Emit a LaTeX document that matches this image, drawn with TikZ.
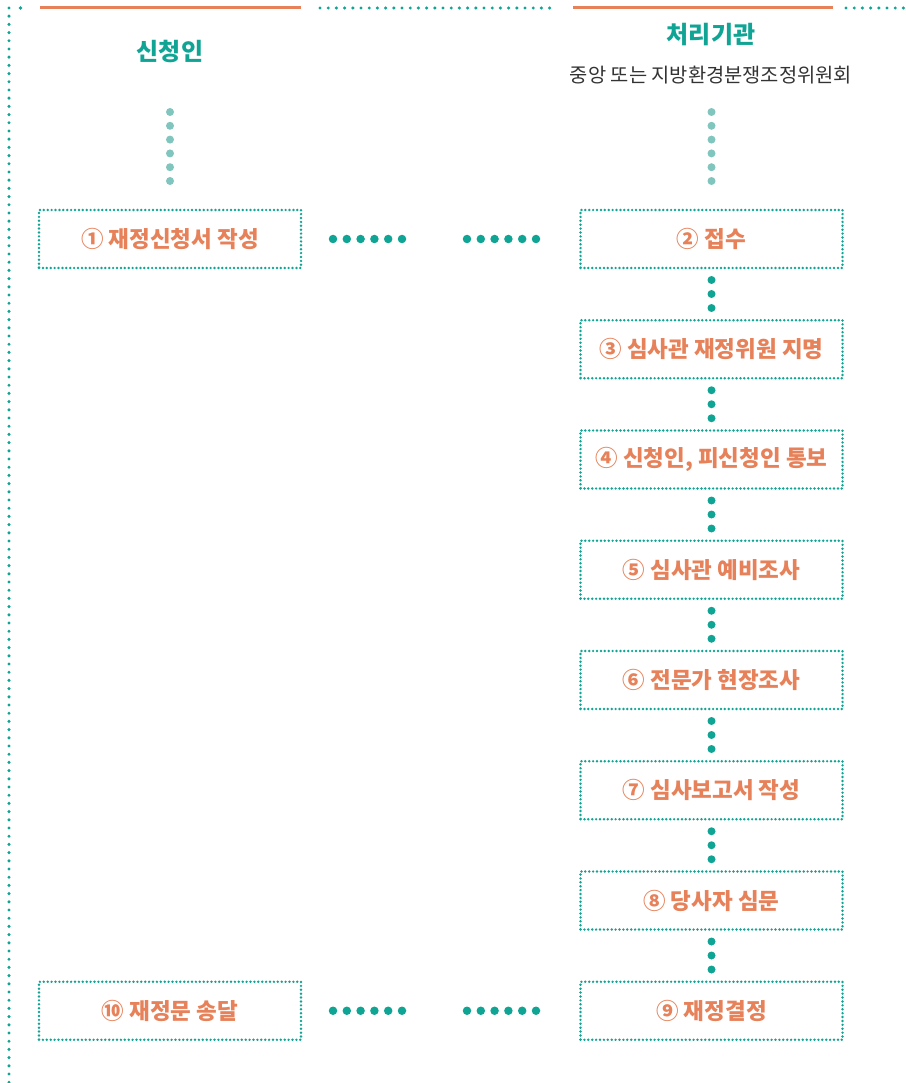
\documentclass[tikz,border=0pt]{standalone}
\usepackage{fontspec}
\setmainfont{Noto Sans CJK KR}
\usepackage{tikz}

\begin{document}
\begin{tikzpicture}[x=1pt,y=-1pt]
	\definecolor{cteal}{rgb}{0.063,0.643,0.580}
	\definecolor{clight}{rgb}{0.502,0.776,0.745}
	\definecolor{corange}{rgb}{0.902,0.506,0.349}
	\definecolor{cgray}{rgb}{0.2,0.2,0.2}
	\tikzset{
		stepbox/.style={minimum width=262pt,minimum height=58pt,inner sep=0pt,outer sep=0pt,
			draw=cteal,line width=2.7pt,dash pattern=on 0pt off 3.9pt,line cap=round,
			text=corange,font=\fontsize{22.5}{26}\selectfont\bfseries},
		headtext/.style={text=cteal,font=\fontsize{24}{28}\selectfont\bfseries,inner sep=0pt},
		subtext/.style={text=cgray,font=\fontsize{19.8}{23}\selectfont,inner sep=0pt},
		topline/.style={draw=corange,line width=3pt},
		borderdots/.style={draw=cteal,line width=3.4pt,line cap=round,dash pattern=on 0pt off 8.2pt},
		vdots/.style={draw=cteal,line width=8pt,line cap=round,dash pattern=on 0pt off 14pt,
			shorten <=12pt,shorten >=11.75pt},
		hdots/.style={draw=cteal,line width=8.5pt,line cap=round,
			dash pattern=on 0pt off 13.8pt on 0pt off 13.8pt on 0pt off 13.8pt on 0pt off 13.8pt on 0pt off 13.8pt on 0pt off 65pt,
			shorten <=32pt,shorten >=44pt},
		ldots/.style={draw=clight,line width=8pt,line cap=round,dash pattern=on 0pt off 13.8pt,shorten <=29pt},
	}
	\useasboundingbox (0,0) rectangle (905,1083);
	%
	\draw[topline] (40,8) -- (301,8);
	\draw[topline] (573,8) -- (833,8);
	\draw[borderdots] (320,8) -- (556,8);
	\draw[borderdots] (846,8) -- (905,8);
	\draw[borderdots] (9,8) -- (9,1083);
	\fill[cteal] (20.5,8) circle (1.8pt);
	%
	\node[headtext] (applicant) at (170,52) {신청인};
	\node[headtext] (agency) at (711,35) {처리기관};
	\node[subtext] (agencysub) at (711,75) {중앙 또는 지방환경분쟁조정위원회};
	\coordinate (c1) at (170,111.5);
	\coordinate (c2) at (711.5,111.5);
	%
	\node[stepbox] (b1) at (170,239) {① 재정신청서 작성};
	\node[stepbox] (b2) at (711.5,239) {② 접수};
	\node[stepbox] (b3) at (711.5,349.25) {③ 심사관 재정위원 지명};
	\node[stepbox] (b4) at (711.5,459.5) {④ 신청인, 피신청인 통보};
	\node[stepbox] (b5) at (711.5,569.75) {⑤ 심사관 예비조사};
	\node[stepbox] (b6) at (711.5,680) {⑥ 전문가 현장조사};
	\node[stepbox] (b7) at (711.5,790.25) {⑦ 심사보고서 작성};
	\node[stepbox] (b8) at (711.5,900.5) {⑧ 당사자 심문};
	\node[stepbox] (b9) at (711.5,1010.75) {⑨ 재정결정};
	\node[stepbox] (b10) at (170,1010.75) {⑩ 재정문 송달};
	%
	\draw[ldots] (b1.north) -- (c1);
	\draw[ldots] (b2.north) -- (c2);
	\draw[hdots] (b1) -- (b2);
	\draw[hdots] (b10) -- (b9);
	\draw[vdots] (b2) -- (b3);
	\draw[vdots] (b3) -- (b4);
	\draw[vdots] (b4) -- (b5);
	\draw[vdots] (b5) -- (b6);
	\draw[vdots] (b6) -- (b7);
	\draw[vdots] (b7) -- (b8);
	\draw[vdots] (b8) -- (b9);
	%
\end{tikzpicture}
\end{document}
